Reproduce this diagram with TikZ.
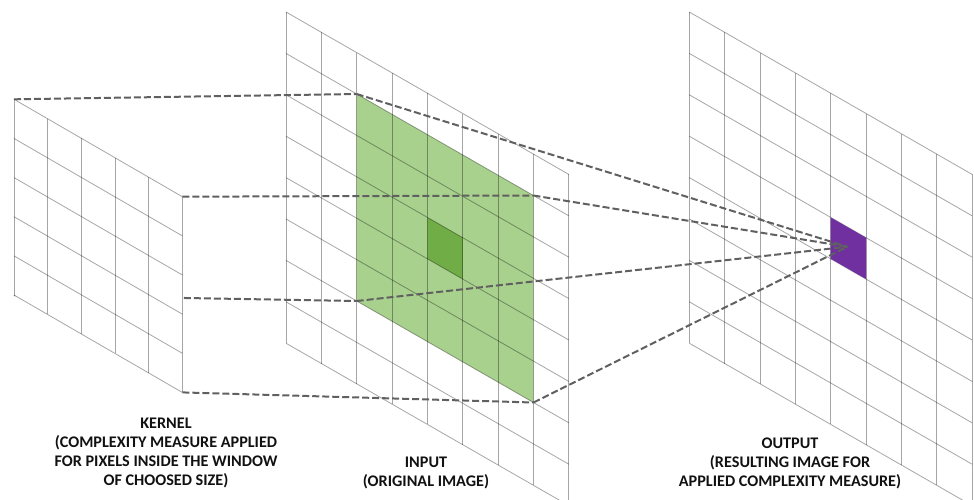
\documentclass[tikz,border=0pt]{standalone}
\usepackage{fontspec}
\setmainfont{Carlito}[BoldFont={Carlito Bold}]
\definecolor{lightgreen}{HTML}{A9D18E}
\definecolor{darkgreen}{HTML}{70AD47}
\definecolor{cellpurple}{HTML}{7030A0}
\definecolor{dashgray}{HTML}{606060}
\definecolor{textblack}{HTML}{111111}
\begin{document}
\begin{tikzpicture}[x=1pt,y=-1pt,
  gridline/.style={line width=0.8pt, draw=black, draw opacity=0.35},
  connector/.style={draw=dashgray, line width=2pt, dash pattern=on 7pt off 3pt},
  caption/.style={font=\bfseries\fontsize{16.2}{19}\selectfont, align=center, inner sep=0pt, text=textblack, anchor=north}]
\useasboundingbox (0,0) rectangle (974,499);
\clip (0,0) rectangle (974,499);
% ---------- input plane (8 x 8) ----------
\def\ix{286}\def\iy{12}\def\ux{35.35}\def\uy{20.3}\def\vy{41.4}
% green window 5x5
\fill[lightgreen] (\ix+2*\ux,\iy+2*\uy+1*\vy) -- (\ix+7*\ux,\iy+7*\uy+1*\vy) -- (\ix+7*\ux,\iy+7*\uy+6*\vy) -- (\ix+2*\ux,\iy+2*\uy+6*\vy) -- cycle;
\fill[darkgreen] (\ix+4*\ux,\iy+4*\uy+3*\vy) -- (\ix+5*\ux,\iy+5*\uy+3*\vy) -- (\ix+5*\ux,\iy+5*\uy+4*\vy) -- (\ix+4*\ux,\iy+4*\uy+4*\vy) -- cycle;
\foreach \i in {0,...,8} \draw[gridline] (\ix+\i*\ux,\iy+\i*\uy) -- ++(0,8*\vy);
\foreach \j in {0,...,8} \draw[gridline] (\ix,\iy+\j*\vy) -- ++(8*\ux,8*\uy);
\coordinate (gTL) at (\ix+2*\ux,\iy+2*\uy+1*\vy);
\coordinate (gTR) at (\ix+7*\ux,\iy+7*\uy+1*\vy);
\coordinate (gBL) at (\ix+2*\ux,\iy+2*\uy+6*\vy);
\coordinate (gBR) at (\ix+7*\ux,\iy+7*\uy+6*\vy);
% ---------- output plane (8 x 8) ----------
\def\ox{689.3}
\foreach \i in {0,...,8} \draw[gridline] (\ox+\i*\ux,\iy+\i*\uy) -- ++(0,8*\vy);
\foreach \j in {0,...,8} \draw[gridline] (\ox,\iy+\j*\vy) -- ++(8*\ux,8*\uy);
\fill[cellpurple] (\ox+4*\ux,\iy+4*\uy+3*\vy) -- (\ox+5*\ux,\iy+5*\uy+3*\vy) -- (\ox+5*\ux,\iy+5*\uy+4*\vy) -- (\ox+4*\ux,\iy+4*\uy+4*\vy) -- cycle;
\coordinate (res) at (\ox+4.5*\ux-1,\iy+4.5*\uy+3.5*\vy-1.5);
% ---------- kernel corners ----------
\def\kx{14}\def\ky{99.3}\def\kux{33.66}\def\kuy{19.48}\def\kvy{39.14}
\coordinate (kTL) at (\kx,\ky);
\coordinate (kTR) at (\kx+5*\kux,\ky+5*\kuy);
\coordinate (kBL) at (\kx,\ky+5*\kvy);
\coordinate (kBR) at (\kx+5*\kux,\ky+5*\kuy+5*\kvy);
% ---------- connectors ----------
\draw[connector] (kTL) -- (gTL);
\draw[connector] (kTR) -- (gTR);
\draw[connector] (kBL) -- (gBL);
\draw[connector] (kBR) -- (gBR);
\draw[connector] (gTL) -- (res);
\draw[connector] (gTR) -- (res);
\draw[connector] (gBL) -- (res);
\draw[connector] (gBR) -- (res);
% ---------- kernel plane (5 x 5), opaque ----------
\fill[white] (kTL) -- (kTR) -- (kBR) -- (kBL) -- cycle;
\foreach \i in {0,...,5} \draw[gridline] (\kx+\i*\kux,\ky+\i*\kuy) -- ++(0,5*\kvy);
\foreach \j in {0,...,5} \draw[gridline] (\kx,\ky+\j*\kvy) -- ++(5*\kux,5*\kuy);
% ---------- captions ----------
\node[caption] (kernelLabel) at (166,418) {KERNEL\\(COMPLEXITY MEASURE APPLIED\\FOR PIXELS INSIDE THE WINDOW\\OF CHOOSED SIZE)};
\node[caption] (inputLabel) at (426,456.3) {INPUT\\(ORIGINAL IMAGE)};
\node[caption] (outputLabel) at (790,437.3) {OUTPUT\\(RESULTING IMAGE FOR\\APPLIED COMPLEXITY MEASURE)};
\end{tikzpicture}
\end{document}
